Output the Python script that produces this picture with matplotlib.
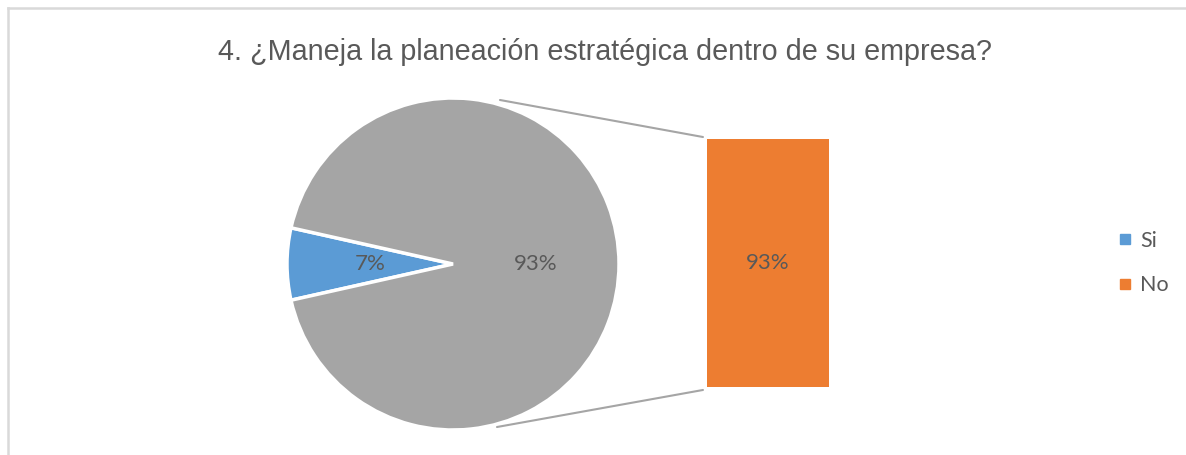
import matplotlib.pyplot as plt
from matplotlib.patches import ConnectionPatch
from matplotlib.lines import Line2D

# data
labels = ["Si", "No"]
values = [7, 93]
colors = ["#5B9BD5", "#ED7D31"]
other_color = "#A5A5A5"
title = "4. ¿Maneja la planeación estratégica dentro de su empresa?"
text_color = "#595959"

W, H = 1186, 455
fig = plt.figure(figsize=(W / 100, H / 100), dpi=100)
fig.patch.set_facecolor("white")

# chart border (top and left visible)
fig.add_artist(Line2D([7.5 / W, 1], [1 - 7.5 / H, 1 - 7.5 / H], color="#D9D9D9", lw=1.8))
fig.add_artist(Line2D([7.5 / W, 7.5 / W], [0, 1 - 7.5 / H], color="#D9D9D9", lw=1.8))

fig.text(605 / W, 1 - 52 / H, title, ha="center", va="center",
         fontsize=20.7, color=text_color, family="Liberation Sans")

# pie: first slice shown, rest grouped as "other"
total = sum(values)
pie_vals = [values[0], total - values[0]]
start = 180 - values[0] / total * 360 / 2
ax_pie = fig.add_axes([287 / W, 1 - 430 / H, 332 / W, 332 / H])
wedges, texts, autotexts = ax_pie.pie(
    pie_vals, colors=[colors[0], other_color], startangle=start,
    autopct=lambda p: f"{p:.0f}%", pctdistance=0.5,
    wedgeprops=dict(edgecolor="white", linewidth=2.5),
    textprops=dict(color=text_color, fontsize=16, family="Lato"))
ax_pie.set_xlim(-1.0, 1.0)
ax_pie.set_ylim(-1.0, 1.0)
ax_pie.set_aspect("equal")
ax_pie.axis("off")

# bar for the "other" group
ax_bar = fig.add_axes([707 / W, 1 - 387 / H, 122 / W, 248 / H])
bar_vals = values[1:]
ax_bar.bar([0], bar_vals, width=1.0, color=colors[1])
ax_bar.set_xlim(-0.5, 0.5)
ax_bar.set_ylim(0, sum(bar_vals))
ax_bar.axis("off")
pct = bar_vals[0] / total * 100
ax_bar.text(0, sum(bar_vals) / 2, f"{pct:.0f}%", ha="center", va="center",
            color=text_color, fontsize=16, family="Lato")

# connector lines
for pie_pt, bar_pt in [((0.283, 0.988), (-0.033, 1.008)), ((0.265, -0.982), (-0.033, -0.012))]:
    con = ConnectionPatch(xyA=pie_pt, coordsA=ax_pie.transData,
                          xyB=bar_pt, coordsB=ax_bar.transAxes,
                          color=other_color, lw=1.5)
    fig.add_artist(con)

# legend
handles = [Line2D([], [], marker="s", linestyle="", markersize=7,
                  markerfacecolor=c, markeredgecolor=c) for c in colors]
leg = fig.legend(handles, labels, loc="center left",
                 bbox_to_anchor=(1093 / W, 1 - 263 / H), frameon=False,
                 prop=dict(family="Lato", size=15.5), labelspacing=1.15,
                 handletextpad=0.1, handlelength=1.2)
for t in leg.get_texts():
    t.set_color(text_color)

fig.savefig("out.png", dpi=100, facecolor="white")
